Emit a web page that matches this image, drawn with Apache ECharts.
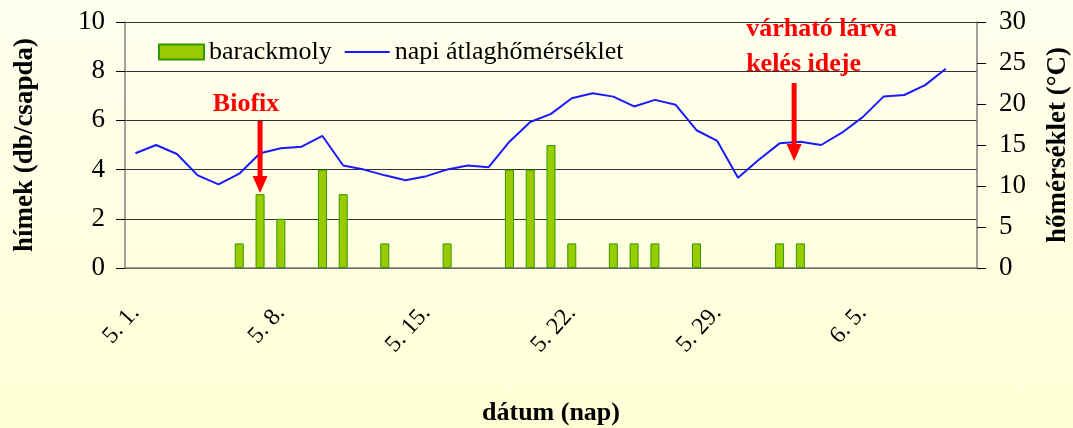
<!DOCTYPE html>
<html>
<head>
<meta charset="utf-8">
<script src="https://cdn.jsdelivr.net/npm/echarts@6/dist/echarts.min.js"></script>
<style>
  html, body { margin: 0; padding: 0; }
  #chart {
    width: 1073px;
    height: 428px;
    background: linear-gradient(#ffffef, #ffffd6);
  }
</style>
</head>
<body>
<div id="chart"></div>
<script>
// dates (5.1 - 6.10)
const days = [
  "5. 1.", "5. 2.", "5. 3.", "5. 4.", "5. 5.", "5. 6.", "5. 7.", "5. 8.", "5. 9.", "5. 10.",
  "5. 11.", "5. 12.", "5. 13.", "5. 14.", "5. 15.", "5. 16.", "5. 17.", "5. 18.", "5. 19.", "5. 20.",
  "5. 21.", "5. 22.", "5. 23.", "5. 24.", "5. 25.", "5. 26.", "5. 27.", "5. 28.", "5. 29.", "5. 30.",
  "5. 31.", "6. 1.", "6. 2.", "6. 3.", "6. 4.", "6. 5.", "6. 6.", "6. 7.", "6. 8.", "6. 9.", "6. 10."
];
// barackmoly (db/csapda)
const moths = [
  null, null, null, null, null, 1, 3, 2, null, 4,
  3, null, 1, null, null, 1, null, null, 4, 4,
  5, 1, null, 1, 1, 1, null, 1, null, null,
  null, 1, 1, null, null, null, null, null, null, null, null
];
// napi átlaghőmérséklet (°C)
const temp = [
  14.0, 15.0, 13.9, 11.3, 10.2, 11.5, 14.0, 14.6, 14.8, 16.1,
  12.5, 12.0, 11.3, 10.7, 11.2, 12.0, 12.5, 12.3, 15.4, 17.8,
  18.8, 20.7, 21.3, 20.9, 19.7, 20.5, 19.9, 16.8, 15.5, 11.0,
  13.2, 15.2, 15.4, 15.0, 16.5, 18.4, 20.9, 21.1, 22.3, 24.3, null
];
const leftTicks = [0, 2, 4, 6, 8, 10];
const rightTicks = [0, 5, 10, 15, 20, 25, 30];

const FONT = '"Liberation Serif", "Times New Roman", serif';

var myChart = echarts.init(document.getElementById("chart"));
let option = {
  backgroundColor: "rgba(0,0,0,0)",
  animation: false,
  textStyle: { fontFamily: FONT, color: "#000" },
  grid: { left: 125, right: 96, top: 22, bottom: 160, containLabel: false, outerBoundsMode: "none" },
  legend: {
    left: 153,
    top: 34,
    itemWidth: 45,
    itemHeight: 15,
    itemGap: 12,
    textStyle: { fontFamily: FONT, fontSize: 26, color: "#000" },
    data: [
      { name: "barackmoly", icon: "rect" },
      { name: "napi átlaghőmérséklet", itemStyle: { opacity: 0 } },
    ],
  },
  xAxis: {
    type: "category",
    data: days,
    boundaryGap: true,
    name: "dátum (nap)",
    nameLocation: "middle",
    nameGap: 132,
    nameTextStyle: { fontFamily: FONT, fontSize: 26, fontWeight: "bold", color: "#000" },
    axisLine: { lineStyle: { color: "#808080", width: 1.5 } },
    axisTick: { interval: 6, length: 9, lineStyle: { color: "#000" } },
    axisLabel: {
      interval: 6,
      rotate: 48,
      margin: 41,
      fontSize: 24,
      fontFamily: FONT,
      color: "#000",
    },
  },
  yAxis: [
    {
      type: "value",
      min: leftTicks[0],
      max: leftTicks[leftTicks.length - 1],
      interval: 2,
      name: "hímek (db/csapda)",
      nameLocation: "middle",
      nameGap: 86,
      nameTextStyle: { fontFamily: FONT, fontSize: 27, fontWeight: "bold", color: "#000" },
      axisLine: { show: true, lineStyle: { color: "#808080", width: 1.5 } },
      axisTick: { show: true, length: 9, lineStyle: { color: "#000" } },
      axisLabel: { margin: 20, fontSize: 27, fontFamily: FONT, color: "#000" },
      splitLine: { show: true, lineStyle: { color: "#333", width: 1 } },
    },
    {
      type: "value",
      min: rightTicks[0],
      max: rightTicks[rightTicks.length - 1],
      interval: 5,
      name: "hőmérséklet (°C)",
      nameLocation: "middle",
      nameGap: 68,
      nameRotate: 90,
      nameTextStyle: { fontFamily: FONT, fontSize: 27, fontWeight: "bold", color: "#000" },
      axisLine: { show: true, lineStyle: { color: "#808080", width: 1.5 } },
      axisTick: { show: true, length: 9, lineStyle: { color: "#000" } },
      axisLabel: { margin: 22, fontSize: 27, fontFamily: FONT, color: "#000" },
      splitLine: { show: false },
    },
  ],
  series: [
    {
      name: "barackmoly",
      type: "bar",
      yAxisIndex: 0,
      barWidth: 9,
      data: moths,
      itemStyle: { color: "#99cc00", borderColor: "#339900", borderWidth: 1 },
    },
    {
      name: "napi átlaghőmérséklet",
      type: "line",
      yAxisIndex: 1,
      symbol: "none",
      data: temp,
      lineStyle: { color: "#1a1aff", width: 2 },
      itemStyle: { color: "#1a1aff" },
      z: 3,
    },
  ],
};
myChart.setOption(option);

// red arrows + annotation texts
function arrow(x, y1, y2) {
  const s = 2.5, h = 7.5, hh = 17;
  return {
    type: "polygon",
    shape: {
      points: [
        [x - s, y1], [x + s, y1], [x + s, y2 - hh], [x + h, y2 - hh],
        [x, y2], [x - h, y2 - hh], [x - s, y2 - hh],
      ],
    },
    style: { fill: "#ff0000" },
    z: 10,
  };
}
const px = (i) => myChart.convertToPixel({ xAxisIndex: 0 }, i);
const py = (v) => myChart.convertToPixel({ yAxisIndex: 0 }, v);
const bx = px(6);
const lx = px(31) + (px(32) - px(31)) * 0.7;
myChart.setOption({
  graphic: [
    arrow(bx, py(5.98), py(3.05)),
    arrow(lx, py(7.52), py(4.35)),
    {
      type: "text",
      x: bx - 14,
      y: py(6.67),
      style: {
        text: "Biofix",
        fill: "#ff0000",
        font: 'bold 26px "Liberation Serif", serif',
        align: "center",
        verticalAlign: "middle",
      },
      z: 10,
    },
    {
      type: "text",
      x: lx - 48,
      y: py(10.42),
      style: {
        text: "várható lárva\nkelés ideje",
        fill: "#ff0000",
        font: 'bold 26px "Liberation Serif", serif',
        lineHeight: 35,
        align: "left",
        verticalAlign: "top",
      },
      z: 10,
    },
  ],
});
</script>
</body>
</html>
